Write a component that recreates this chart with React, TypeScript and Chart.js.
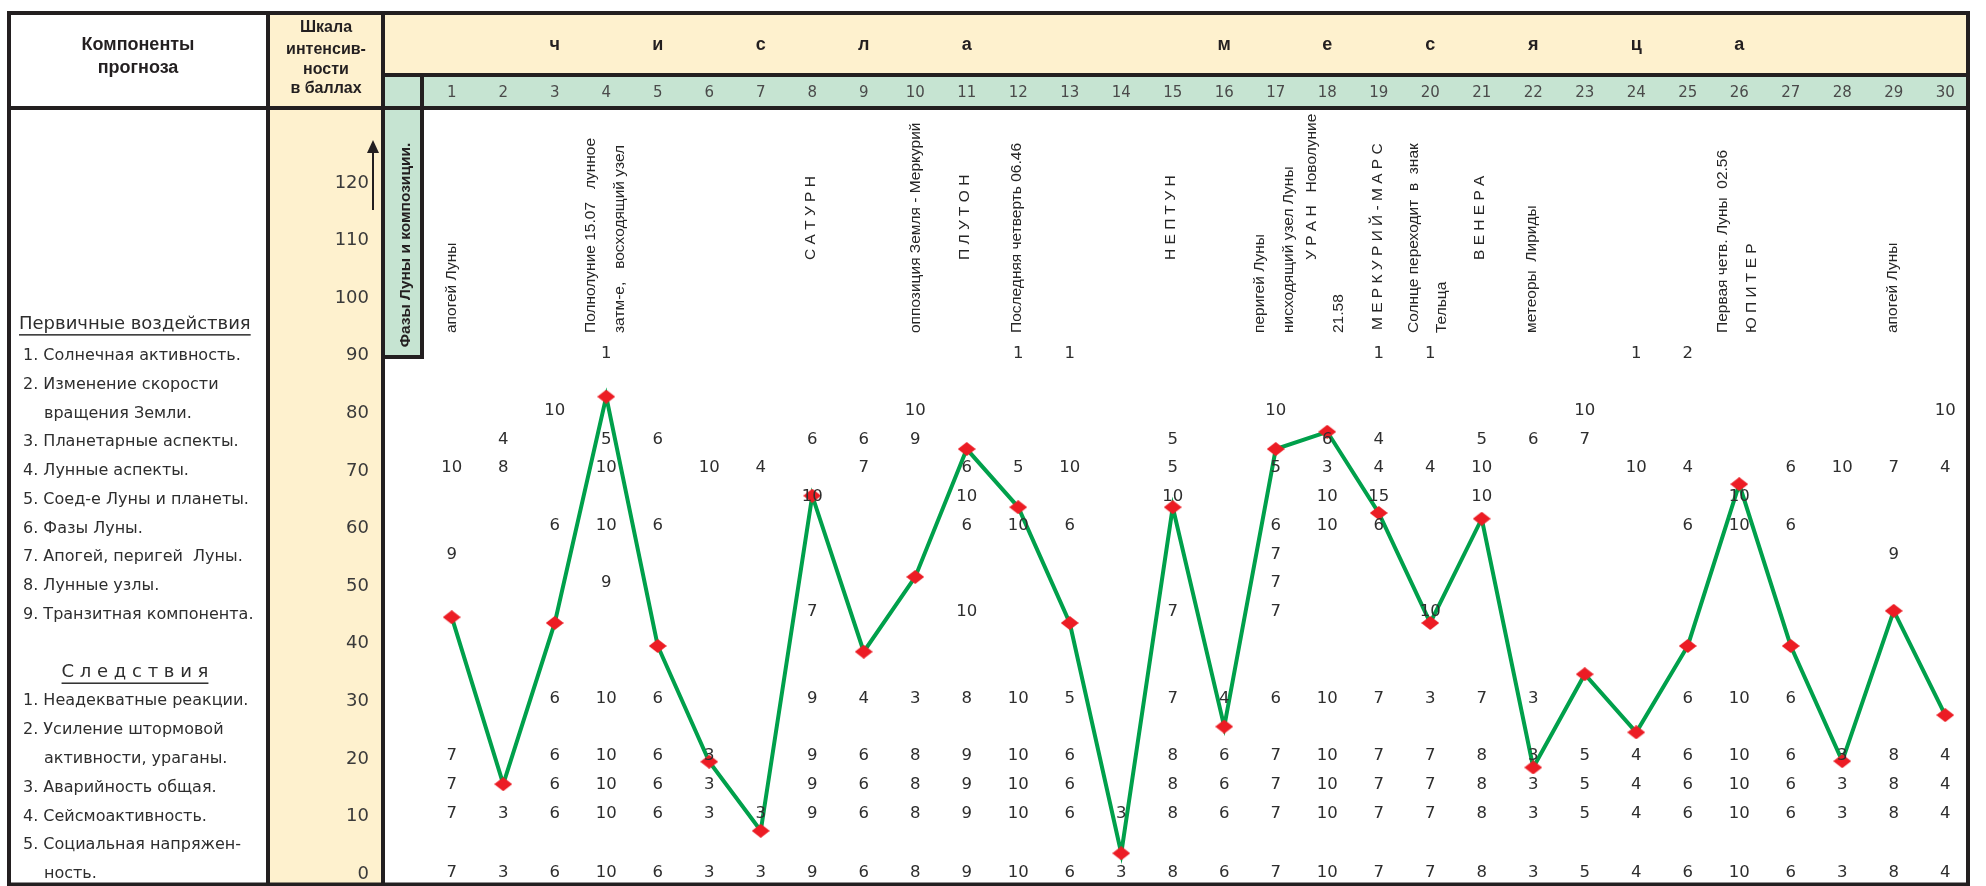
import React, { useEffect, useRef } from 'react';
import { Chart, registerables } from 'chart.js';

Chart.register(...registerables);

// ---------------- DATA ----------------
const N = null;

const dayLabels = ['1', '2', '3', '4', '5', '6', '7', '8', '9', '10', '11', '12', '13', '14', '15',
  '16', '17', '18', '19', '20', '21', '22', '23', '24', '25', '26', '27', '28', '29', '30'];

const intensity = [44.6, 15.6, 43.6, 82.9, 39.6, 19.5, 7.5, 65.7, 38.6, 51.6, 73.8, 63.7, 43.6, 3.6, 63.7,
  25.6, 73.8, 76.8, 62.7, 43.6, 61.7, 18.5, 34.7, 24.6, 39.6, 67.7, 39.6, 19.6, 45.7, 27.6];

const yTickValues = [0, 10, 20, 30, 40, 50, 60, 70, 80, 90, 100, 110, 120];

const monthLetters = ['ч', 'и', 'с', 'л', 'а', 'м', 'е', 'с', 'я', 'ц', 'а'];
const monthLetterDays = [3, 5, 7, 9, 11, 16, 18, 20, 22, 24, 26];

// primary factors
const solarActivity = [N, N, N, 1, N, N, N, N, N, N, N, 1, 1, N, N, N, N, N, 1, 1, N, N, N, 1, 2, N, N, N, N, N];
const earthRotation = [N, N, 10, N, N, N, N, N, N, 10, N, N, N, N, N, N, 10, N, N, N, N, N, 10, N, N, N, N, N, N, 10];
const planetaryAspects = [N, 4, N, 5, 6, N, N, 6, 6, 9, N, N, N, N, 5, N, N, 6, 4, N, 5, 6, 7, N, N, N, N, N, N, N];
const lunarAspects = [10, 8, N, 10, N, 10, 4, N, 7, N, 6, 5, 10, N, 5, N, 5, 3, 4, 4, 10, N, N, 10, 4, N, 6, 10, 7, 4];
const moonConjunctions = [N, N, N, N, N, N, N, 10, N, N, 10, N, N, N, 10, N, N, 10, 15, N, 10, N, N, N, N, 10, N, N, N, N];
const moonPhases = [N, N, 6, 10, 6, N, N, N, N, N, 6, 10, 6, N, N, N, 6, 10, 6, N, N, N, N, N, 6, 10, 6, N, N, N];
const apogeePerigee = [9, N, N, N, N, N, N, N, N, N, N, N, N, N, N, N, 7, N, N, N, N, N, N, N, N, N, N, N, 9, N];
const lunarNodes = [N, N, N, 9, N, N, N, N, N, N, N, N, N, N, N, N, 7, N, N, N, N, N, N, N, N, N, N, N, N, N];
const transitComponent = [N, N, N, N, N, N, N, 7, N, N, 10, N, N, N, 7, N, 7, N, N, 10, N, N, N, N, N, N, N, N, N, N];

// consequences
const inadequateReactions = [N, N, 6, 10, 6, N, N, 9, 4, 3, 8, 10, 5, N, 7, 4, 6, 10, 7, 3, 7, 3, N, N, 6, 10, 6, N, N, N];
const stormActivity = [7, N, 6, 10, 6, 3, N, 9, 6, 8, 9, 10, 6, N, 8, 6, 7, 10, 7, 7, 8, 3, 5, 4, 6, 10, 6, 3, 8, 4];
const accidentRate = [7, N, 6, 10, 6, 3, N, 9, 6, 8, 9, 10, 6, N, 8, 6, 7, 10, 7, 7, 8, 3, 5, 4, 6, 10, 6, 3, 8, 4];
const seismicActivity = [7, 3, 6, 10, 6, 3, 3, 9, 6, 8, 9, 10, 6, 3, 8, 6, 7, 10, 7, 7, 8, 3, 5, 4, 6, 10, 6, 3, 8, 4];
const socialTension = [7, 3, 6, 10, 6, 3, 3, 9, 6, 8, 9, 10, 6, 3, 8, 6, 7, 10, 7, 7, 8, 3, 5, 4, 6, 10, 6, 3, 8, 4];

const headerComponents = ['Компоненты', 'прогноза'];
const headerScale = ['Шкала', 'интенсив-', 'ности', 'в баллах'];
const sideBoxLabel = 'Фазы Луны и композиции.';

const primaryTitle = 'Первичные воздействия';
const primaryLabels = [
  '1. Солнечная активность.',
  '2. Изменение скорости',
  'вращения Земли.',
  '3. Планетарные аспекты.',
  '4. Лунные аспекты.',
  '5. Соед-е Луны и планеты.',
  '6. Фазы Луны.',
  '7. Апогей, перигей  Луны.',
  '8. Лунные узлы.',
  '9. Транзитная компонента.',
];
const consequenceTitle = 'С л е д с т в и я';
const consequenceLabels = [
  '1. Неадекватные реакции.',
  '2. Усиление штормовой',
  'активности, ураганы.',
  '3. Аварийность общая.',
  '4. Сейсмоактивность.',
  '5. Социальная напряжен-',
  'ность.',
];

const eventTexts = [
  'апогей Луны',
  'Полнолуние 15.07   лунное',
  'затм-е,   восходящий узел',
  'С А Т У Р Н',
  'оппозиция Земля - Меркурий',
  'П Л У Т О Н',
  'Последняя четверть 06.46',
  'Н Е П Т У Н',
  'перигей Луны',
  'нисходящий узел Луны',
  'У Р А Н   Новолуние',
  '21.58',
  'М Е Р К У Р И Й - М А Р С',
  'Солнце переходит  в  знак',
  'Тельца',
  'В Е Н Е Р А',
  'метеоры  Лириды',
  'Первая четв. Луны  02.56',
  'Ю П И Т Е Р',
  'апогей Луны',
];
const eventDays = [1, 4, 4, 8, 10, 11, 12, 15, 17, 17, 18, 18, 19, 20, 20, 21, 22, 26, 26, 29];

// ---------------- LAYOUT / STYLE ----------------
const YELLOW = '#FEF1CE';
const GREEN = '#C6E4D2';
const INK = '#231F20';
const TEXT = '#2e2e2e';
const WIDE = '"DejaVu Sans", sans-serif';
const NARROW = '"Liberation Sans Narrow", "Liberation Sans", sans-serif';
const BOLDF = '"Liberation Sans", Arial, sans-serif';

const L = { left: 9, top: 13, right: 1968, bottom: 884.5, c1: 268, c2: 383, c3: 422, row1: 75, head: 108, boxBottom: 357 };

// value rows: [series, level on the scale]
const valueRows: [(number | null)[], number][] = [
  [solarActivity, 90.4], [earthRotation, 80.5], [planetaryAspects, 75.5], [lunarAspects, 70.5],
  [moonConjunctions, 65.5], [moonPhases, 60.5], [apogeePerigee, 55.5], [lunarNodes, 50.5],
  [transitComponent, 45.5], [inadequateReactions, 30.5], [stormActivity, 20.5], [accidentRate, 15.5],
  [seismicActivity, 10.5], [socialTension, 0.3],
];
const primaryLevels = [90, 85, 80, 75, 70, 65, 60, 55, 50, 45];
const primaryIndent = [false, false, true, false, false, false, false, false, false, false];
const consequenceLevels = [30, 25, 20, 15, 10, 5, 0];
const consequenceIndent = [false, false, true, false, false, false, true];

// event label placement: [dx from day centre, bottom pixel]
const eventPlace: [number, number][] = [
  [0, 333], [-16, 333], [13, 333], [-2, 260], [0, 333], [-2, 260], [-2, 333], [-2, 260],
  [-16, 333], [13, 333], [-16, 260], [11, 333], [-1, 330], [-17, 333], [11, 333], [-2, 260],
  [-2, 333], [-17, 333], [12, 333], [-1, 333],
];

function makeDiamond(): HTMLCanvasElement {
  const c = document.createElement('canvas');
  c.width = 18; c.height = 14;
  const g = c.getContext('2d')!;
  g.fillStyle = '#EC1C24';
  g.beginPath();
  g.moveTo(9, 0); g.lineTo(18, 7); g.lineTo(9, 14); g.lineTo(0, 7); g.closePath();
  g.fill();
  return c;
}

function txt(ctx: CanvasRenderingContext2D, s: string, x: number, y: number, font: string, align: CanvasTextAlign = 'left', color = TEXT) {
  ctx.font = font; ctx.fillStyle = color; ctx.textAlign = align; ctx.textBaseline = 'middle';
  ctx.fillText(s, x, y);
}

const tablePlugin = {
  id: 'tableLayout',
  beforeDraw(chart: any) {
    const ctx: CanvasRenderingContext2D = chart.ctx;
    const xs = chart.scales.x, ys = chart.scales.y;
    ctx.save();
    ctx.fillStyle = '#ffffff';
    ctx.fillRect(0, 0, chart.width, chart.height);
    ctx.fillStyle = YELLOW;
    ctx.fillRect(L.c1, L.top, L.c2 - L.c1, L.bottom - L.top);
    ctx.fillRect(L.c2, L.top, L.right - L.c2, L.row1 - L.top);
    ctx.fillStyle = GREEN;
    ctx.fillRect(L.c2, L.row1, L.right - L.c2, L.head - L.row1);
    ctx.fillRect(L.c2, L.head, L.c3 - L.c2, L.boxBottom - L.head);

    // header texts
    txt(ctx, headerComponents[0], 138, 45, 'bold 18px ' + BOLDF, 'center', INK);
    txt(ctx, headerComponents[1], 138, 68, 'bold 18px ' + BOLDF, 'center', INK);
    const sy = [28, 50, 70, 89];
    headerScale.forEach((s, i) => txt(ctx, s, 326, sy[i], 'bold 16px ' + BOLDF, 'center', INK));
    monthLetters.forEach((s, i) => txt(ctx, s, xs.getPixelForValue(monthLetterDays[i] - 1), 45, 'bold 18px ' + BOLDF, 'center', INK));

    // left labels
    const lf = '16px ' + WIDE;
    const py = ys.getPixelForValue(95.5);
    txt(ctx, primaryTitle, 19, py, '18px ' + WIDE, 'left', TEXT);
    let w = ctx.measureText(primaryTitle).width;
    ctx.fillRect(19, py + 10, w, 1.5);
    primaryLabels.forEach((s, i) => txt(ctx, s, primaryIndent[i] ? 44 : 23, ys.getPixelForValue(primaryLevels[i]), lf));
    const cy = ys.getPixelForValue(35);
    txt(ctx, consequenceTitle, 135, cy, '18px ' + WIDE, 'center', TEXT);
    w = ctx.measureText(consequenceTitle).width;
    ctx.fillRect(135 - w / 2, cy + 10, w, 1.5);
    consequenceLabels.forEach((s, i) => txt(ctx, s, consequenceIndent[i] ? 44 : 23, ys.getPixelForValue(consequenceLevels[i]), lf));

    // arrow in the scale column
    ctx.strokeStyle = INK; ctx.lineWidth = 2;
    ctx.beginPath(); ctx.moveTo(373, 210); ctx.lineTo(373, 150); ctx.stroke();
    ctx.fillStyle = INK;
    ctx.beginPath(); ctx.moveTo(373, 140); ctx.lineTo(379, 153); ctx.lineTo(367, 153); ctx.closePath(); ctx.fill();

    // side box label
    ctx.save();
    ctx.translate(406, 245);
    ctx.rotate(-Math.PI / 2);
    txt(ctx, sideBoxLabel, 0, 0, 'bold 15.5px ' + NARROW, 'center', INK);
    ctx.restore();

    // event annotations
    eventTexts.forEach((s, i) => {
      const [dx, by] = eventPlace[i];
      ctx.save();
      ctx.translate(xs.getPixelForValue(eventDays[i] - 1) + dx, by);
      ctx.rotate(-Math.PI / 2);
      txt(ctx, s, 0, 0, '15.5px ' + NARROW, 'left', '#262626');
      ctx.restore();
    });
    ctx.restore();
  },
  afterDatasetsDraw(chart: any) {
    const ctx: CanvasRenderingContext2D = chart.ctx;
    const xs = chart.scales.x, ys = chart.scales.y;
    ctx.save();
    valueRows.forEach(([arr, lvl]) => {
      const yy = ys.getPixelForValue(lvl);
      arr.forEach((v, i) => {
        if (v === null) return;
        txt(ctx, String(v), xs.getPixelForValue(i), yy, '16.5px ' + WIDE, 'center', TEXT);
      });
    });
    ctx.restore();
  },
  afterDraw(chart: any) {
    const ctx: CanvasRenderingContext2D = chart.ctx;
    ctx.save();
    ctx.strokeStyle = INK;
    ctx.lineWidth = 4;
    ctx.strokeRect(L.left, L.top, L.right - L.left, L.bottom - L.top);
    const seg = (x1: number, y1: number, x2: number, y2: number) => { ctx.beginPath(); ctx.moveTo(x1, y1); ctx.lineTo(x2, y2); ctx.stroke(); };
    seg(L.c1, L.top, L.c1, L.bottom);
    seg(L.c2, L.top, L.c2, L.bottom);
    seg(L.c2, L.row1, L.right, L.row1);
    seg(L.left, L.head, L.right, L.head);
    seg(L.c3, L.row1, L.c3, L.boxBottom + 2);
    seg(L.c2, L.boxBottom, L.c3 + 2, L.boxBottom);
    ctx.restore();
  },
};

export default function App() {
  const ref = useRef<HTMLCanvasElement>(null);
  useEffect(() => {
    document.body.style.margin = '0';
    const diamond = makeDiamond();
    const chart = new Chart(ref.current!, {
      type: 'line',
      data: {
        labels: dayLabels,
        datasets: [{
          data: intensity,
          borderColor: '#00A04B',
          borderWidth: 4,
          tension: 0,
          fill: false,
          pointStyle: diamond as any,
          pointRadius: 1,
          pointHoverRadius: 1,
          pointBorderWidth: 0,
          clip: false as any,
        }],
      },
      options: {
        responsive: false,
        animation: false,
        events: [],
        layout: { padding: { left: 270, top: 77, right: 15, bottom: 2 } },
        plugins: { legend: { display: false }, tooltip: { enabled: false } },
        scales: {
          x: {
            type: 'category',
            position: 'top',
            offset: true,
            grid: { display: false, drawTicks: false },
            border: { display: false },
            ticks: { autoSkip: false, maxRotation: 0, minRotation: 0, padding: 6, color: '#4a4a4a', font: { family: WIDE, size: 15 } },
            afterFit: (s: any) => { s.height = 31; s.paddingLeft = 0; s.paddingRight = 0; },
          },
          y: {
            min: -1.737,
            max: 133.03,
            position: 'left',
            grid: { display: false, drawTicks: false },
            border: { display: false },
            ticks: { padding: 57, color: '#3a3a3a', font: { family: WIDE, size: 18 } },
            afterBuildTicks: (s: any) => { s.ticks = yTickValues.map((v) => ({ value: v })); },
            afterFit: (s: any) => { s.width = 156; s.paddingTop = 0; s.paddingBottom = 0; },
          },
        },
      },
      plugins: [tablePlugin],
    });
    return () => chart.destroy();
  }, []);
  return (
    <div style={{ position: 'absolute', left: 0, top: 0, width: 1986, height: 886, background: '#fff' }}>
      <canvas ref={ref} width={1986} height={886} style={{ display: 'block', width: 1986, height: 886 }} />
    </div>
  );
}
